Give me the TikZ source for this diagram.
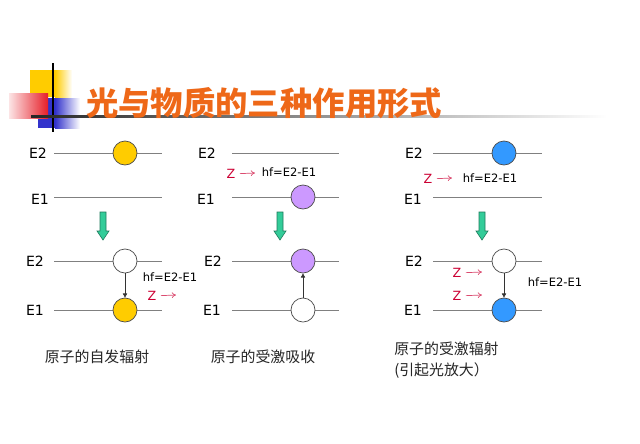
\documentclass[tikz,border=0pt]{standalone}
\usepackage{fontspec}
\setmainfont{DejaVu Sans}
\newfontfamily\cjk{Noto Sans CJK SC}
\usetikzlibrary{arrows.meta}

\definecolor{titleorange}{RGB}{238,104,24}
\definecolor{levelgray}{RGB}{128,128,128}
\definecolor{atomyellow}{RGB}{255,204,0}
\definecolor{atompurple}{RGB}{204,153,255}
\definecolor{atomblue}{RGB}{51,153,255}
\definecolor{arrowgreen}{RGB}{51,204,153}
\definecolor{zred}{RGB}{204,0,51}
\definecolor{logoyellow}{RGB}{255,204,0}
\definecolor{logoblue}{RGB}{51,51,204}
\definecolor{logored}{RGB}{230,30,40}

\begin{document}
\begin{tikzpicture}
  [
  x=0.025cm, y=-0.025cm,
  level/.style={draw=levelgray, line width=0.7pt},
  atom/.style={circle, draw=black!70, line width=0.5pt, minimum size=0.6cm, inner sep=0pt},
  yelatom/.style={atom, fill=atomyellow},
  purpatom/.style={atom, fill=atompurple},
  blueatom/.style={atom, fill=atomblue},
  emptyatom/.style={atom, fill=white},
  elabel/.style={font=\fontsize{10}{12}\selectfont, inner sep=1pt},
  hflabel/.style={font=\fontsize{8.2}{10}\selectfont, inner sep=1pt},
  zlabel/.style={text=zred, font=\fontsize{9}{11}\selectfont, inner sep=1pt},
  zray/.style={draw=zred!70, line width=0.5pt, shorten <=2pt, -{To[length=3pt,width=4pt]}},
  jump/.style={draw=black!80, line width=0.5pt, -{Triangle[length=3pt,width=3pt]}},
  caption/.style={font=\cjk\fontsize{10.6}{14.5}\selectfont, text=black!85, inner sep=0pt},
  greenarrow/.pic={\filldraw[fill=arrowgreen, draw=arrowgreen!60!black, line width=0.4pt]
      (-3,0) -- (3,0) -- (3,19) -- (6,19) -- (0,28) -- (-6,19) -- (-3,19) -- cycle;}
  ]
  \useasboundingbox[fill=white] (0,0) rectangle (640,443);

  % logo
  \fill[logoyellow] (30,70) rectangle (55,97);
  \shade[left color=logoyellow, right color=white] (55,70) rectangle (72,97);
  \fill[logoblue] (38,98) rectangle (55,128);
  \shade[left color=logoblue, right color=white] (55,98) rectangle (80,128);
  \shade[left color=logored!12, right color=logored] (9,93) rectangle (48,118);
  \draw[black, line width=1.3pt] (53,63) -- (53,132);
  \shade[left color=black!85, right color=white] (31,115) rectangle (607,117.5);
  \node[anchor=west, text=titleorange, font=\cjk\bfseries\fontsize{23}{26}\selectfont, inner sep=0pt] (title) at (86,103) {光与物质的三种作用形式};

  % energy levels
  \foreach \xa/\xb in {54/162, 232/339, 433/542}
    \foreach \yy in {153,197,261,310}
      \draw[level] (\xa,\yy) -- (\xb,\yy);

  \foreach \xx in {103,280,482}
    \pic at (\xx,212) {greenarrow};

  % spontaneous emission
  \node[elabel] (a2) at (38,153) {E2};
  \node[elabel] (a1) at (40,199) {E1};
  \node[elabel] (b2) at (35,261) {E2};
  \node[elabel] (b1) at (35,310) {E1};
  \node[yelatom] (sa) at (125,153) {};
  \node[emptyatom] (sb) at (125,261) {};
  \node[yelatom] (sc) at (125,310) {};
  \draw[jump] (sb) -- (sc);
  \node[hflabel] (shf) at (170,277) {hf=E2-E1};
  \node[zlabel] (sz) at (152,296) {Z};
  \coordinate (sze) at (176,295);
  \draw[zray] (sz) -- (sze);

  % stimulated absorption
  \node[elabel] (c2) at (207,153) {E2};
  \node[elabel] (c1) at (206,199) {E1};
  \node[elabel] (d2) at (213,261) {E2};
  \node[elabel] (d1) at (212,310) {E1};
  \node[purpatom] (aa) at (303,197) {};
  \node[purpatom] (ab) at (303,261) {};
  \node[emptyatom] (ac) at (303,310) {};
  \draw[jump] (ac) -- (ab);
  \node[zlabel] (az) at (231,174) {Z};
  \coordinate (aze) at (255,173);
  \draw[zray] (az) -- (aze);
  \node[hflabel] (ahf) at (289,172) {hf=E2-E1};

  % stimulated emission
  \node[elabel] (e2) at (414,153) {E2};
  \node[elabel] (e1) at (413,199) {E1};
  \node[elabel] (f2) at (414,261) {E2};
  \node[elabel] (f1) at (413,310) {E1};
  \node[blueatom] (ea) at (504,153) {};
  \node[emptyatom] (eb) at (504,261) {};
  \node[blueatom] (ec) at (504,310) {};
  \draw[jump] (eb) -- (ec);
  \node[zlabel] (ez) at (428,179) {Z};
  \coordinate (eze) at (452,178);
  \draw[zray] (ez) -- (eze);
  \node[hflabel] (ehf) at (490,178) {hf=E2-E1};
  \node[zlabel] (fz) at (457,273) {Z};
  \coordinate (fze) at (482,272);
  \draw[zray] (fz) -- (fze);
  \node[zlabel] (gz) at (457,296) {Z};
  \coordinate (gze) at (482,295);
  \draw[zray] (gz) -- (gze);
  \node[hflabel] (fhf) at (555,282) {hf=E2-E1};

  % captions
  \node[caption] (cap1) at (97,357) {原子的自发辐射};
  \node[caption] (cap2) at (263,357) {原子的受激吸收};
  \node[caption, anchor=west, align=left] (cap3) at (394,360) {原子的受激辐射\\(引起光放大）};
\end{tikzpicture}
\end{document}
